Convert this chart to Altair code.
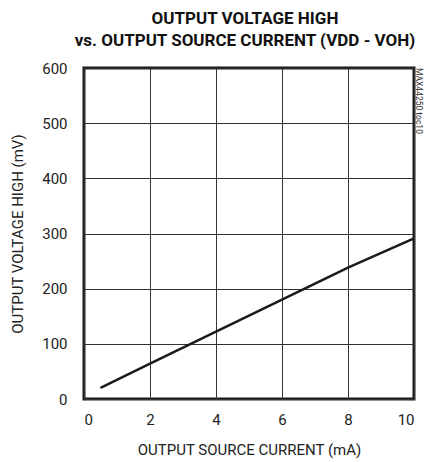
import altair as alt
import pandas as pd

current_ma = [0.5, 2, 4, 6, 8, 10]
voh_mv = [20, 64, 122, 180, 238, 291]
x_ticks = [0, 2, 4, 6, 8, 10]
y_ticks = [0, 100, 200, 300, 400, 500, 600]
note = ["MAX44250 toc10"]

FONT = "Roboto, Liberation Sans, sans-serif"

df = pd.DataFrame({"x": current_ma, "y": voh_mv})

line = alt.Chart(df).mark_line(color="#1a1a1a", strokeWidth=2.5).encode(
    x=alt.X("x:Q", scale=alt.Scale(domain=[0, 10], nice=False),
            axis=alt.Axis(values=x_ticks, title="OUTPUT SOURCE CURRENT (mA)")),
    y=alt.Y("y:Q", scale=alt.Scale(domain=[0, 600], nice=False),
            axis=alt.Axis(values=y_ticks, title="OUTPUT VOLTAGE HIGH (mV)")),
)

label = alt.Chart(pd.DataFrame({"t": note})).mark_text(
    angle=90, align="left", baseline="middle", font=FONT, fontSize=8.5, color="#333"
).encode(x=alt.value(335), y=alt.value(0), text="t:N")

chart = alt.layer(line, label).properties(
    width=330, height=331,
    title=alt.TitleParams(
        ["OUTPUT VOLTAGE HIGH", "vs. OUTPUT SOURCE CURRENT (VDD - VOH)"],
        anchor="middle", frame="group", font=FONT, fontSize=17, fontWeight="bold",
        color="#111", lineHeight=22, offset=11, limit=1000, dx=-4,
    ),
    autosize=alt.AutoSizeParams(type="none"),
    padding={"left": 76, "top": 60, "right": 10, "bottom": 60},
).configure_view(
    stroke="#1a1a1a", strokeWidth=3
).configure_axis(
    grid=True, gridColor="#333", gridWidth=1, gridOpacity=1,
    domain=False, ticks=False,
    labelFont=FONT, labelFontSize=15, labelColor="#222",
    titleFont=FONT, titleFontSize=15, titleFontWeight="normal", titleColor="#222",
).configure_axisX(labelPadding=13, titlePadding=15).configure_axisY(labelPadding=17, titlePadding=16)

chart.save("out.html", embed_options={"renderer": "svg", "actions": False})
